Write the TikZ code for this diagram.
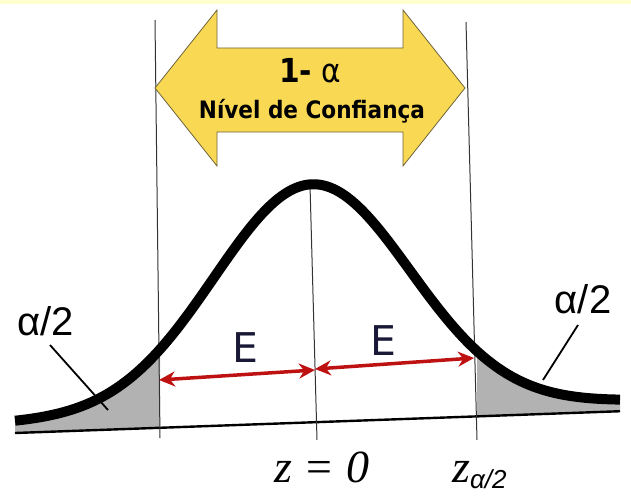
\documentclass[tikz,border=0pt]{standalone}
\usepackage{fontspec}
\usetikzlibrary{arrows.meta}
\newfontfamily\bannerfont{DejaVu Sans Condensed}
\newfontfamily\plainfont{DejaVu Sans}
\newfontfamily\arialfont{Liberation Sans}
\newfontfamily\timesfont{Liberation Serif}
\definecolor{banner}{RGB}{249,216,84}
\definecolor{bannerline}{RGB}{110,100,60}
\definecolor{pale}{RGB}{255,255,208}
\definecolor{errred}{RGB}{190,18,18}
\definecolor{navy}{RGB}{25,25,55}
\definecolor{tailgray}{RGB}{178,178,178}
\newcommand\axisY[1]{433-0.036*(#1-15)}
\newcommand\bellY[1]{423-0.036*(#1-15)-228*exp(-0.5*((#1-312)/98)^2)}
\tikzset{
  guide/.style={draw=black!80, line width=1pt},
  bell/.style={line width=10pt, line join=round},
  tail/.style={fill=tailgray},
  banner/.style={fill=banner, draw=bannerline, line width=0.8pt},
  margin/.style={<->, >={Stealth[length=16pt, width=15pt]}, errred, line width=3.5pt},
  elabel/.style={font=\plainfont\fontsize{41}{44}\selectfont, text=navy, inner sep=0pt, anchor=base},
  tlabel/.style={font=\arialfont\fontsize{40}{44}\selectfont, inner sep=0pt, anchor=base},
  zlabel/.style={font=\timesfont\itshape\fontsize{46}{50}\selectfont, inner sep=0pt, anchor=base},
  pointer/.style={line width=1.8pt}
}

\begin{document}
\begin{tikzpicture}[x=1pt, y=-1pt]
  \useasboundingbox (0,0) rectangle (631,500);
  \fill[pale] (0,0) rectangle (631,4);

  \coordinate (lt) at (155,20);  \coordinate (lb) at (160,438);
  \coordinate (ct) at (310,185); \coordinate (cb) at (317,440);
  \coordinate (rt) at (466,22);  \coordinate (rb) at (477,440);

  \fill[tail] plot[domain=15:160, samples=40] (\x, {\bellY{\x}}) -- (160, {\axisY{160}}) -- (15, {\axisY{15}}) -- cycle;
  \fill[tail] plot[domain=477:620, samples=40] (\x, {\bellY{\x}}) -- (620, {\axisY{620}}) -- (477, {\axisY{477}}) -- cycle;
  \draw[line width=2.4pt] (15, {\axisY{15}}) -- (620, {\axisY{620}});
  \draw[guide] (lt) -- (lb);
  \draw[guide] (ct) -- (cb);
  \draw[guide] (rt) -- (rb);
  \draw[bell] plot[domain=15:620, samples=120, smooth] (\x, {\bellY{\x}});

  \draw[banner] (155,88) -- (217,10) -- (217,48) -- (403,48) -- (403,10) -- (465,88)
    -- (403,166) -- (403,132) -- (217,132) -- (217,166) -- cycle;
  \node[font=\bannerfont\fontsize{33}{36}\selectfont, inner sep=0pt, anchor=base] (conf) at (310,83) {\textbf{1-} α};
  \node[font=\bannerfont\bfseries\fontsize{24}{28}\selectfont, inner sep=0pt, anchor=base] (nivel) at (312,118) {Nível de Confiança};

  \coordinate (eL) at (159,380); \coordinate (eC1) at (315,370);
  \coordinate (eC2) at (315,369); \coordinate (eR) at (474,358);
  \draw[margin] (eL) -- (eC1);
  \draw[margin] (eC2) -- (eR);
  \node[elabel] (e1) at (245,362) {E};
  \node[elabel] (e2) at (383,355) {E};

  \node[tlabel] (al) at (46,335) {α/2};
  \node[tlabel] (ar) at (583,313) {α/2};
  \coordinate (pl) at (108,410); \coordinate (pr) at (543,380);
  \draw[pointer] (50,345) -- (pl);
  \draw[pointer] (578,325) -- (pr);

  \node[zlabel] (z0) at (322,482) {z = 0};
  \node[zlabel, anchor=base west] (zc) at (452,482) {z\raisebox{-6pt}{\arialfont\itshape\fontsize{26}{28}\selectfont α/2}};
\end{tikzpicture}
\end{document}
